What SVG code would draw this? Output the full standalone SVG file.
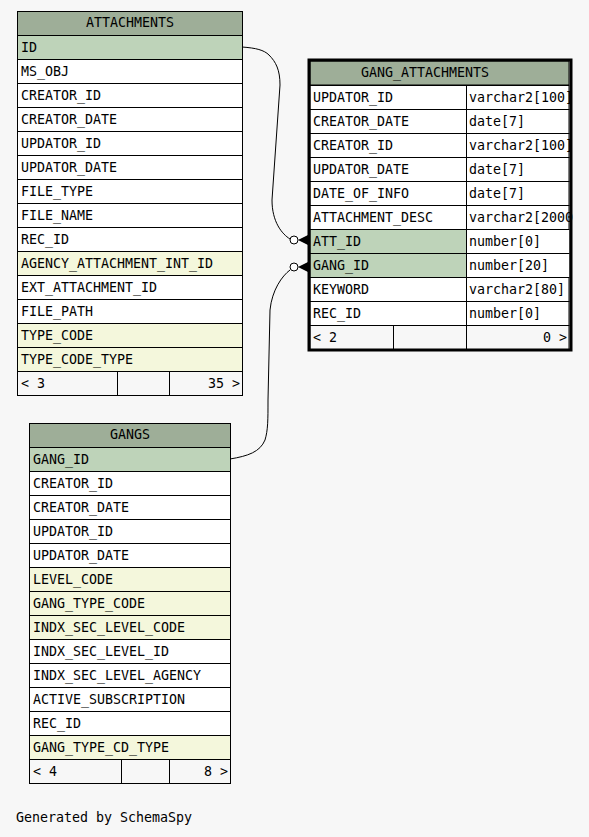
<svg xmlns="http://www.w3.org/2000/svg" width="589" height="837" viewBox="0 0 589 837">
<style>
text{font-family:"DejaVu Sans Mono","Liberation Mono",monospace;font-size:13.3px;fill:#000}
.hd{fill:#9eae98;stroke:#000;stroke-width:1}
.r{fill:#fff;stroke:#000;stroke-width:1}
.k{fill:#bed3b9;stroke:#000;stroke-width:1}
.y{fill:#f4f7dc;stroke:#000;stroke-width:1}
.f{fill:#f7f7f7;stroke:#000;stroke-width:1}
.c{text-anchor:middle}
.e{text-anchor:end}
.ln{fill:none;stroke:#000;stroke-width:1}
</style>
<rect width="589" height="837" fill="#f7f7f7"/>
<g id="ATTACHMENTS">
<rect class="hd" x="17.5" y="11.5" width="225" height="24"/>
<text class="c" x="130" y="27">ATTACHMENTS</text>
<rect class="k" x="17.5" y="35.5" width="225" height="24"/><text x="21" y="52">ID</text>
<rect class="r" x="17.5" y="59.5" width="225" height="24"/><text x="21" y="76">MS_OBJ</text>
<rect class="r" x="17.5" y="83.5" width="225" height="24"/><text x="21" y="100">CREATOR_ID</text>
<rect class="r" x="17.5" y="107.5" width="225" height="24"/><text x="21" y="124">CREATOR_DATE</text>
<rect class="r" x="17.5" y="131.5" width="225" height="24"/><text x="21" y="148">UPDATOR_ID</text>
<rect class="r" x="17.5" y="155.5" width="225" height="24"/><text x="21" y="172">UPDATOR_DATE</text>
<rect class="r" x="17.5" y="179.5" width="225" height="24"/><text x="21" y="196">FILE_TYPE</text>
<rect class="r" x="17.5" y="203.5" width="225" height="24"/><text x="21" y="220">FILE_NAME</text>
<rect class="r" x="17.5" y="227.5" width="225" height="24"/><text x="21" y="244">REC_ID</text>
<rect class="y" x="17.5" y="251.5" width="225" height="24"/><text x="21" y="268">AGENCY_ATTACHMENT_INT_ID</text>
<rect class="r" x="17.5" y="275.5" width="225" height="24"/><text x="21" y="292">EXT_ATTACHMENT_ID</text>
<rect class="r" x="17.5" y="299.5" width="225" height="24"/><text x="21" y="316">FILE_PATH</text>
<rect class="y" x="17.5" y="323.5" width="225" height="24"/><text x="21" y="340">TYPE_CODE</text>
<rect class="y" x="17.5" y="347.5" width="225" height="24"/><text x="21" y="364">TYPE_CODE_TYPE</text>
<rect class="f" x="17.5" y="371.5" width="225" height="24"/>
<line class="ln" x1="117.5" y1="371.5" x2="117.5" y2="395.5"/><line class="ln" x1="169.5" y1="371.5" x2="169.5" y2="395.5"/>
<text x="21" y="388">&lt; 3</text><text class="e" x="240" y="388">35 &gt;</text>
</g>
<g id="GANG_ATTACHMENTS">
<rect class="hd" x="310" y="61" width="259" height="24"/>
<text class="c" x="425" y="77">GANG_ATTACHMENTS</text>
<rect class="r" x="310" y="85.5" width="259" height="24"/><line class="ln" x1="466.5" y1="85.5" x2="466.5" y2="109.5"/><text x="313" y="102">UPDATOR_ID</text><text x="469" y="102">varchar2[100]</text>
<rect class="r" x="310" y="109.5" width="259" height="24"/><line class="ln" x1="466.5" y1="109.5" x2="466.5" y2="133.5"/><text x="313" y="126">CREATOR_DATE</text><text x="469" y="126">date[7]</text>
<rect class="r" x="310" y="133.5" width="259" height="24"/><line class="ln" x1="466.5" y1="133.5" x2="466.5" y2="157.5"/><text x="313" y="150">CREATOR_ID</text><text x="469" y="150">varchar2[100]</text>
<rect class="r" x="310" y="157.5" width="259" height="24"/><line class="ln" x1="466.5" y1="157.5" x2="466.5" y2="181.5"/><text x="313" y="174">UPDATOR_DATE</text><text x="469" y="174">date[7]</text>
<rect class="r" x="310" y="181.5" width="259" height="24"/><line class="ln" x1="466.5" y1="181.5" x2="466.5" y2="205.5"/><text x="313" y="198">DATE_OF_INFO</text><text x="469" y="198">date[7]</text>
<rect class="r" x="310" y="205.5" width="259" height="24"/><line class="ln" x1="466.5" y1="205.5" x2="466.5" y2="229.5"/><text x="313" y="222">ATTACHMENT_DESC</text><text x="469" y="222">varchar2[2000</text>
<rect class="k" x="310" y="229.5" width="259" height="24"/><line class="ln" x1="466.5" y1="229.5" x2="466.5" y2="253.5"/><text x="313" y="246">ATT_ID</text><rect x="467" y="230" width="102" height="23" fill="#fff"/><text x="469" y="246">number[0]</text>
<rect class="k" x="310" y="253.5" width="259" height="24"/><line class="ln" x1="466.5" y1="253.5" x2="466.5" y2="277.5"/><text x="313" y="270">GANG_ID</text><rect x="467" y="254" width="102" height="23" fill="#fff"/><text x="469" y="270">number[20]</text>
<rect class="r" x="310" y="277.5" width="259" height="24"/><line class="ln" x1="466.5" y1="277.5" x2="466.5" y2="301.5"/><text x="313" y="294">KEYWORD</text><text x="469" y="294">varchar2[80]</text>
<rect class="r" x="310" y="301.5" width="259" height="24"/><line class="ln" x1="466.5" y1="301.5" x2="466.5" y2="325.5"/><text x="313" y="318">REC_ID</text><text x="469" y="318">number[0]</text>
<rect class="f" x="310" y="325.5" width="259" height="24"/>
<line class="ln" x1="393.5" y1="325.5" x2="393.5" y2="349.5"/><line class="ln" x1="466.5" y1="325.5" x2="466.5" y2="349.5"/>
<text x="313" y="342">&lt; 2</text><text class="e" x="567" y="342">0 &gt;</text>
<rect x="309" y="60" width="262" height="290" fill="none" stroke="#000" stroke-width="3"/>
</g>
<g id="GANGS">
<rect class="hd" x="29.5" y="423.5" width="201" height="24"/>
<text class="c" x="130" y="439">GANGS</text>
<rect class="k" x="29.5" y="447.5" width="201" height="24"/><text x="33" y="464">GANG_ID</text>
<rect class="r" x="29.5" y="471.5" width="201" height="24"/><text x="33" y="488">CREATOR_ID</text>
<rect class="r" x="29.5" y="495.5" width="201" height="24"/><text x="33" y="512">CREATOR_DATE</text>
<rect class="r" x="29.5" y="519.5" width="201" height="24"/><text x="33" y="536">UPDATOR_ID</text>
<rect class="r" x="29.5" y="543.5" width="201" height="24"/><text x="33" y="560">UPDATOR_DATE</text>
<rect class="y" x="29.5" y="567.5" width="201" height="24"/><text x="33" y="584">LEVEL_CODE</text>
<rect class="y" x="29.5" y="591.5" width="201" height="24"/><text x="33" y="608">GANG_TYPE_CODE</text>
<rect class="y" x="29.5" y="615.5" width="201" height="24"/><text x="33" y="632">INDX_SEC_LEVEL_CODE</text>
<rect class="r" x="29.5" y="639.5" width="201" height="24"/><text x="33" y="656">INDX_SEC_LEVEL_ID</text>
<rect class="r" x="29.5" y="663.5" width="201" height="24"/><text x="33" y="680">INDX_SEC_LEVEL_AGENCY</text>
<rect class="r" x="29.5" y="687.5" width="201" height="24"/><text x="33" y="704">ACTIVE_SUBSCRIPTION</text>
<rect class="r" x="29.5" y="711.5" width="201" height="24"/><text x="33" y="728">REC_ID</text>
<rect class="y" x="29.5" y="735.5" width="201" height="24"/><text x="33" y="752">GANG_TYPE_CD_TYPE</text>
<rect class="f" x="29.5" y="759.5" width="201" height="24"/>
<line class="ln" x1="121.5" y1="759.5" x2="121.5" y2="783.5"/><line class="ln" x1="169.5" y1="759.5" x2="169.5" y2="783.5"/>
<text x="33" y="776">&lt; 4</text><text class="e" x="228" y="776">8 &gt;</text>
</g>
<g id="connectors">
<path class="ln" d="M242,47 C256,48 264,50 269,55 C276,62 280,70 280,85 L272,200 C272,222 282,234 290,239"/>
<circle cx="294" cy="240" r="4" fill="#fff" stroke="#000"/>
<polygon points="298,240 308,235 308,245" fill="#000"/>
<path class="ln" d="M230,459 C248,456 260,452 265,440 C268,430 268,420 268,400 L270,310 C272,290 282,276 290,270"/>
<circle cx="294" cy="267" r="4" fill="#fff" stroke="#000"/>
<polygon points="298,267 308,262 308,272" fill="#000"/>
</g>
<text x="16" y="822">Generated by SchemaSpy</text>
</svg>
